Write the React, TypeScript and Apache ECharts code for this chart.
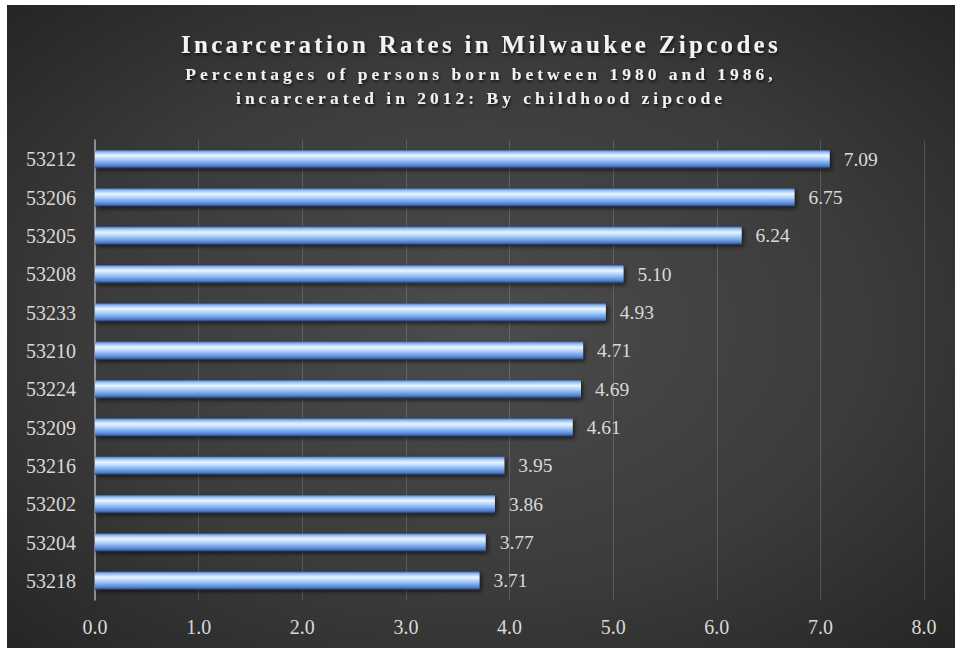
import React, { useEffect, useRef } from "react";
import * as echarts from "echarts";

const zipcodes = ["53212", "53206", "53205", "53208", "53233", "53210", "53224", "53209", "53216", "53202", "53204", "53218"];
const rates = [7.09, 6.75, 6.24, 5.1, 4.93, 4.71, 4.69, 4.61, 3.95, 3.86, 3.77, 3.71];
const xTicks = [0, 1, 2, 3, 4, 5, 6, 7, 8];

const titleText = "Incarceration Rates in Milwaukee Zipcodes";
const subLine1 = "Percentages of persons born between 1980 and 1986,";
const subLine2 = "incarcerated in 2012: By childhood zipcode";

const SERIF = "'Liberation Serif', 'Times New Roman', serif";

export default function App() {
  const ref = useRef<HTMLDivElement>(null);
  useEffect(() => {
    if (!ref.current) return;
    const chart = echarts.init(ref.current, null, { renderer: "svg" });
    const barGrad = new echarts.graphic.LinearGradient(0, 0, 0, 1, [
      { offset: 0, color: "#4a7bcf" },
      { offset: 0.12, color: "#9cc2f2" },
      { offset: 0.3, color: "#eaf5ff" },
      { offset: 0.5, color: "#b3d3f8" },
      { offset: 0.72, color: "#74a3e8" },
      { offset: 0.88, color: "#4d7cca" },
      { offset: 1, color: "#1c3668" },
    ]);
    const shadow = {
      textShadowColor: "rgba(0,0,0,0.7)",
      textShadowBlur: 3,
      textShadowOffsetX: 1,
      textShadowOffsetY: 2,
    };
    chart.setOption({
      animation: false,
      backgroundColor: {
        type: "radial",
        x: 0.5,
        y: 0.5,
        r: 0.75,
        colorStops: [
          { offset: 0, color: "#4c4c4c" },
          { offset: 0.55, color: "#3b3b3b" },
          { offset: 1, color: "#222222" },
        ],
      },
      title: [
        {
          text: titleText,
          left: "center",
          top: 22,
          textStyle: {
            fontFamily: SERIF,
            fontWeight: "bold",
            fontSize: 25,
            lineHeight: 25,
            color: "#f2f2f2",
            ...shadow,
          },
        },
        {
          text: subLine1 + "\n" + subLine2,
          left: "center",
          top: 52,
          textStyle: {
            fontFamily: SERIF,
            fontWeight: "bold",
            fontSize: 17.5,
            lineHeight: 24,
            color: "#f2f2f2",
            ...shadow,
          },
        },
      ],
      grid: { left: 88, right: 31, top: 135, bottom: 48, containLabel: false },
      xAxis: {
        type: "value",
        min: xTicks[0],
        max: xTicks[xTicks.length - 1],
        interval: 1,
        axisLine: { show: false },
        axisTick: { show: false },
        splitLine: { show: true, lineStyle: { color: "rgba(255,255,255,0.16)", width: 1 } },
        axisLabel: {
          color: "#d9d9d9",
          fontFamily: SERIF,
          fontSize: 20,
          margin: 17,
          formatter: (v: number) => v.toFixed(1),
        },
      },
      yAxis: {
        type: "category",
        inverse: true,
        data: zipcodes,
        axisLine: { show: true, lineStyle: { color: "#a6a6a6", width: 1.5 } },
        axisTick: { show: false },
        axisLabel: {
          color: "#d9d9d9",
          fontFamily: SERIF,
          fontSize: 20,
          margin: 19,
        },
      },
      series: [
        {
          type: "bar",
          data: rates,
          barWidth: "47%",
          itemStyle: {
            color: barGrad,
            shadowColor: "rgba(0,0,0,0.6)",
            shadowBlur: 4,
            shadowOffsetX: 2,
            shadowOffsetY: 2,
          },
          label: {
            show: true,
            position: "right",
            distance: 14,
            color: "#d9d9d9",
            fontFamily: SERIF,
            fontSize: 19.5,
            formatter: (p: any) => Number(p.value).toFixed(2),
          },
        },
      ],
    });
    const texts = ref.current.querySelectorAll("text");
    texts.forEach((t) => {
      const s = t.textContent || "";
      if (s === titleText) t.setAttribute("letter-spacing", "3.3");
      else if (s === subLine1 || s === subLine2) t.setAttribute("letter-spacing", "4");
    });
    return () => chart.dispose();
  }, []);
  return (
    <div style={{ position: "absolute", left: 0, top: 0, width: 960, height: 651, background: "#ffffff" }}>
      <div ref={ref} style={{ position: "absolute", left: 7, top: 5, width: 948, height: 643 }} />
    </div>
  );
}
